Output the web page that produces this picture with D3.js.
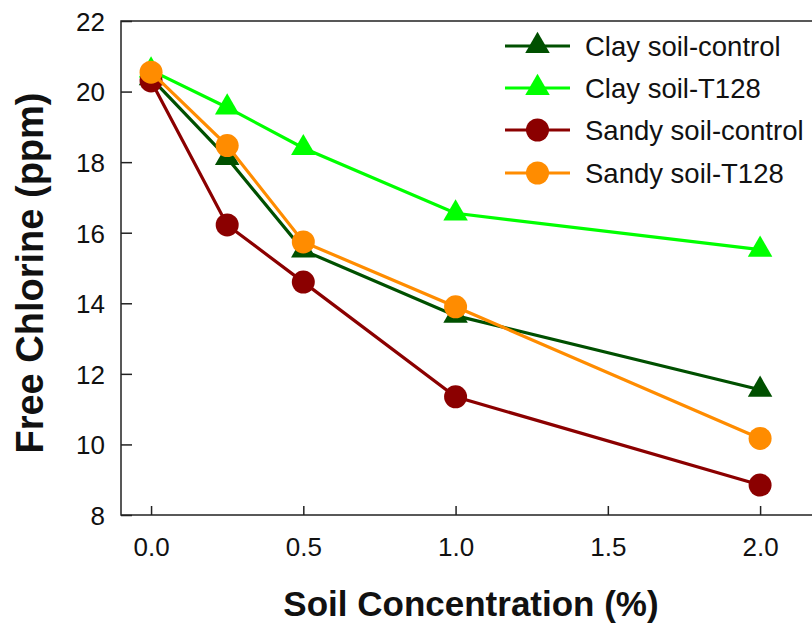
<!DOCTYPE html>
<html>
<head>
<meta charset="utf-8">
<script src="https://cdn.jsdelivr.net/npm/d3@7"></script>
<style>
  html, body { margin: 0; padding: 0; background: #fff; }
  svg { display: block; font-family: "Liberation Sans", Arial, sans-serif; }
</style>
</head>
<body>
<svg id="chart" width="812" height="625"></svg>
<script>
// Soil concentration (%) sampled
const concentrations = [0, 0.25, 0.5, 1.0, 2.0];

// Free chlorine (ppm) per treatment
const clayControl  = [20.38, 18.12, 15.5, 13.65, 11.55];
const clayT128     = [20.6, 19.55, 18.4, 16.55, 15.52];
const sandyControl = [20.3, 16.22, 14.6, 11.35, 8.85];
const sandyT128    = [20.55, 18.47, 15.74, 13.9, 10.17];

const seriesNames  = ["Clay soil-control", "Clay soil-T128", "Sandy soil-control", "Sandy soil-T128"];
const seriesColors = ["#005000", "#00ff00", "#8b0000", "#ff8c00"];
const seriesShapes = ["triangle", "triangle", "circle", "circle"];

const xTicks = [0, 0.5, 1.0, 1.5, 2.0];
const yTicks = [8, 10, 12, 14, 16, 18, 20, 22];

const series = [clayControl, clayT128, sandyControl, sandyT128].map((vals, i) => ({
  name: seriesNames[i], color: seriesColors[i], shape: seriesShapes[i],
  points: vals.map((v, j) => ({ x: concentrations[j], y: v }))
}));

const svg = d3.select("#chart");
const plotLeft = 121, plotTop = 21, plotRight = 821, plotBottom = 515;

const x = d3.scaleLinear().domain([-0.0987, 2.2]).range([plotLeft, plotRight]);
const y = d3.scaleLinear().domain([8, 22]).range([plotBottom, plotTop]);

// frame around the plotting area
svg.append("rect")
  .attr("x", plotLeft).attr("y", plotTop)
  .attr("width", plotRight - plotLeft).attr("height", plotBottom - plotTop)
  .attr("fill", "none").attr("stroke", "#222").attr("stroke-width", 1.5);

// axes with inward ticks
const yAxis = svg.append("g").attr("transform", `translate(${plotLeft},0)`)
  .call(d3.axisLeft(y).tickValues(yTicks).tickSize(-11).tickPadding(16).tickFormat(d3.format("d")));
const xAxis = svg.append("g").attr("transform", `translate(0,${plotBottom})`)
  .call(d3.axisBottom(x).tickValues(xTicks).tickSize(-9).tickPadding(23).tickFormat(d3.format(".1f")));

[yAxis, xAxis].forEach(g => {
  g.select(".domain").remove();
  g.selectAll(".tick line").attr("stroke", "#222").attr("stroke-width", 1.5);
  g.selectAll(".tick text").attr("fill", "#111").style("font-size", "26px")
    .style("font-family", "'Liberation Sans', Arial, sans-serif");
});
yAxis.selectAll(".tick text").attr("dy", "0.36em");

// axis titles
svg.append("text")
  .attr("x", 471).attr("y", 616)
  .attr("text-anchor", "middle")
  .style("font-size", "35px").style("font-weight", "bold").attr("fill", "#111")
  .text("Soil Concentration (%)");

svg.append("text")
  .attr("transform", "translate(43,273) rotate(-90)")
  .attr("text-anchor", "middle")
  .style("font-size", "38px").style("font-weight", "bold").attr("fill", "#111")
  .text("Free Chlorine (ppm)");

const line = d3.line().x(d => x(d.x)).y(d => y(d.y));
const triangle = d3.symbol().type(d3.symbolTriangle).size(260);

function drawMarker(g, shape, color, cx, cy) {
  if (shape === "circle") {
    g.append("circle").attr("cx", cx).attr("cy", cy).attr("r", 11.5).attr("fill", color);
  } else {
    g.append("path").attr("d", triangle()).attr("transform", `translate(${cx},${cy})`).attr("fill", color);
  }
}

const plot = svg.append("g");
series.forEach(s => {
  const g = plot.append("g");
  g.append("path").datum(s.points).attr("d", line)
    .attr("fill", "none").attr("stroke", s.color).attr("stroke-width", 3.2);
  s.points.forEach(p => drawMarker(g, s.shape, s.color, x(p.x), y(p.y)));
});

// legend
const legend = svg.append("g");
const legendRows = [46, 88, 130, 173];
series.forEach((s, i) => {
  const ly = legendRows[i];
  const g = legend.append("g");
  g.append("line").attr("x1", 505).attr("x2", 570).attr("y1", ly).attr("y2", ly)
    .attr("stroke", s.color).attr("stroke-width", 3.2);
  drawMarker(g, s.shape, s.color, 537.5, ly);
  g.append("text").attr("x", 585).attr("y", ly).attr("dy", "0.36em")
    .style("font-size", "27.5px").attr("fill", "#111").text(s.name);
});
</script>
</body>
</html>
